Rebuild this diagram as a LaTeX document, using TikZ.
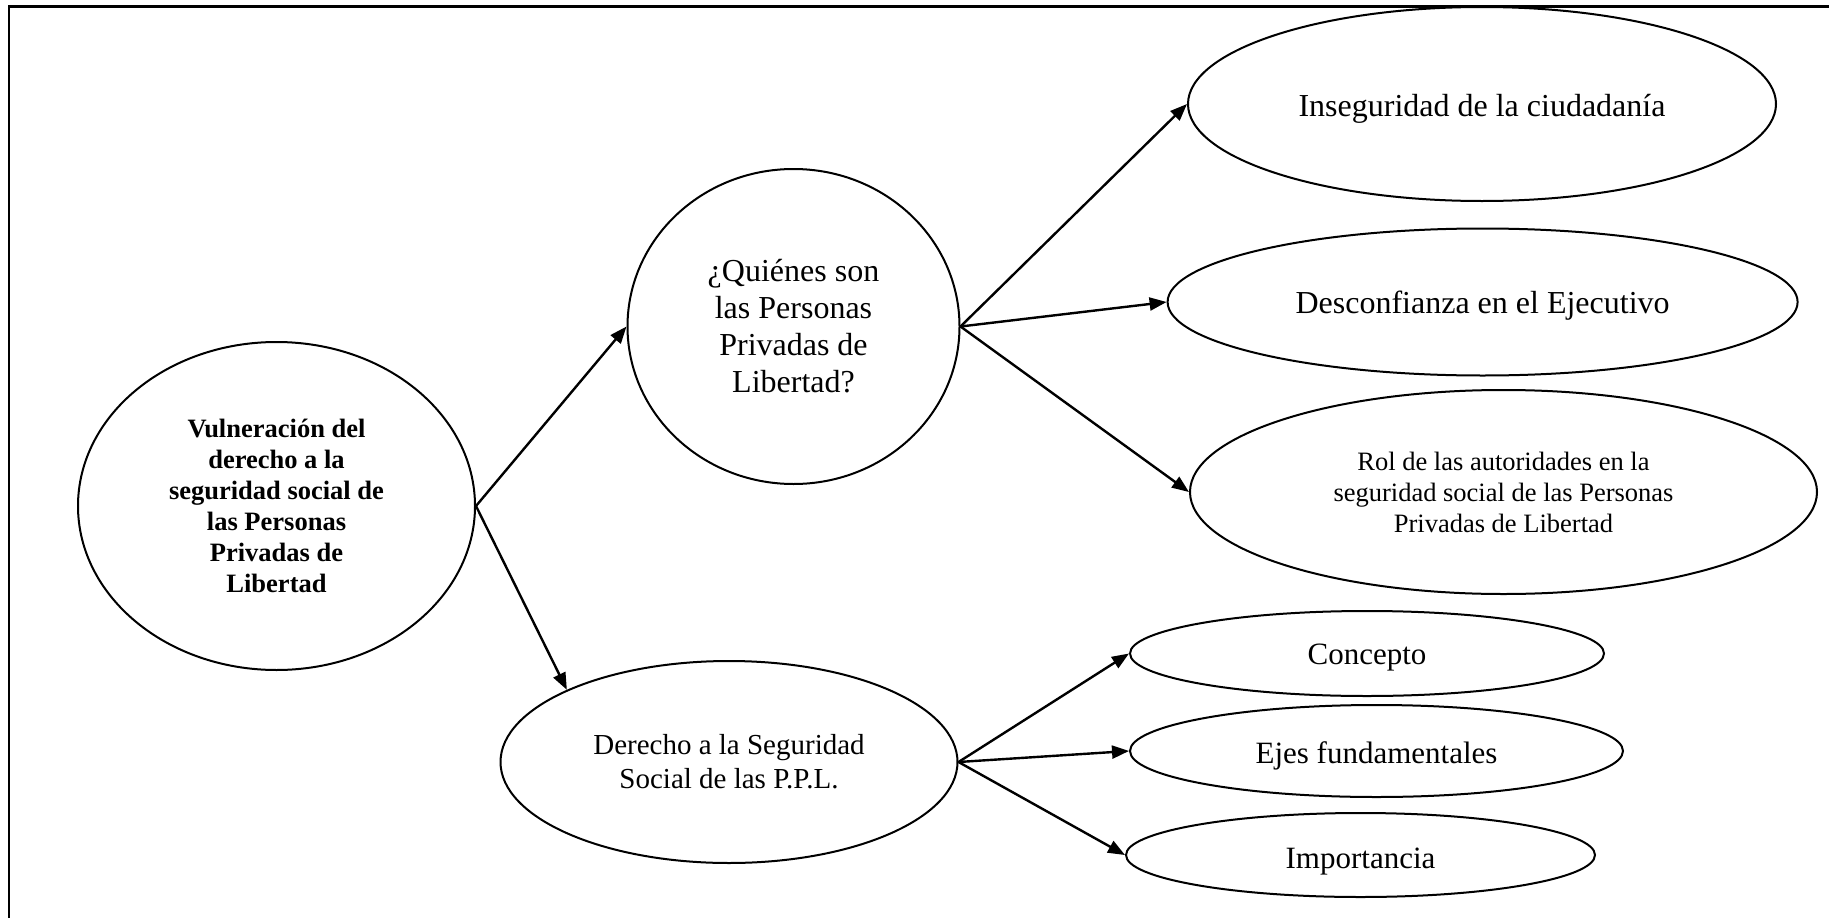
\documentclass[tikz,border=0pt]{standalone}
\usepackage{fontspec}
\setmainfont{Liberation Serif}
\usetikzlibrary{shapes.geometric,arrows.meta}
\newcommand{\lowertext}[2]{\raisebox{-#1}[\height][\depth]{#2}}
\tikzset{
  oval/.style={draw=black, line width=2pt, ellipse, inner sep=0pt, align=center},
  link/.style={line width=2.4pt, -{Triangle[length=17pt,width=13pt]}},
  frameline/.style={line width=2.8pt}
}
\begin{document}
\begin{tikzpicture}[x=1pt,y=-1pt]
\useasboundingbox (0,0) rectangle (1829,918);
\clip (0,0) rectangle (1829,918);
\draw[frameline] (1840,6.5) -- (9,6.5) -- (9,930);

\node[oval, minimum width=397pt, minimum height=328pt, font=\fontsize{26.5}{31}\selectfont\bfseries] (main) at (276.5,506)
  {Vulneración del\\derecho a la\\seguridad social de\\las Personas\\Privadas de\\Libertad};
\node[oval, minimum width=332pt, minimum height=315pt, font=\fontsize{32}{37}\selectfont] (qui) at (793.5,326.5)
  {\lowertext{3.3pt}{\renewcommand{\arraystretch}{1}\begin{tabular}{@{}c@{}}¿Quiénes son\\las Personas\\Privadas de\\Libertad?\end{tabular}}};
\node[oval, minimum width=457pt, minimum height=202pt, font=\fontsize{29}{34}\selectfont] (der) at (729,762)
  {Derecho a la Seguridad\\Social de las P.P.L.};
\node[oval, minimum width=588pt, minimum height=194pt, font=\fontsize{32}{37}\selectfont] (ins) at (1482,104)
  {\lowertext{4.5pt}{Inseguridad de la ciudadanía}};
\node[oval, minimum width=630pt, minimum height=147pt, font=\fontsize{32}{37}\selectfont] (des) at (1482.6,302)
  {\lowertext{4pt}{Desconfianza en el Ejecutivo}};
\node[oval, minimum width=627pt, minimum height=204pt, font=\fontsize{26.5}{31}\selectfont] (rol) at (1503.5,492)
  {Rol de las autoridades en la\\seguridad social de las Personas\\Privadas de Libertad};
\node[oval, minimum width=474pt, minimum height=85pt, font=\fontsize{31}{36}\selectfont] (con) at (1367,653.5)
  {\lowertext{4.5pt}{Concepto}};
\node[oval, minimum width=493pt, minimum height=92pt, font=\fontsize{31}{36}\selectfont] (eje) at (1376.5,751)
  {\lowertext{4.5pt}{Ejes fundamentales}};
\node[oval, minimum width=469pt, minimum height=84pt, font=\fontsize{31}{36}\selectfont] (imp) at (1360.5,855)
  {\lowertext{6.5pt}{Importancia}};

\draw[link] (main.east) -- (qui.west);
\draw[link] (main.east) -- (der.156);
\draw[link] (qui.east) -- (ins.west);
\draw[link] (qui.east) -- (des.west);
\draw[link] (qui.east) -- (rol.west);
\draw[link] (der.east) -- (con.west);
\draw[link] (der.east) -- (eje.west);
\draw[link] (der.east) -- (imp.west);
\end{tikzpicture}
\end{document}
